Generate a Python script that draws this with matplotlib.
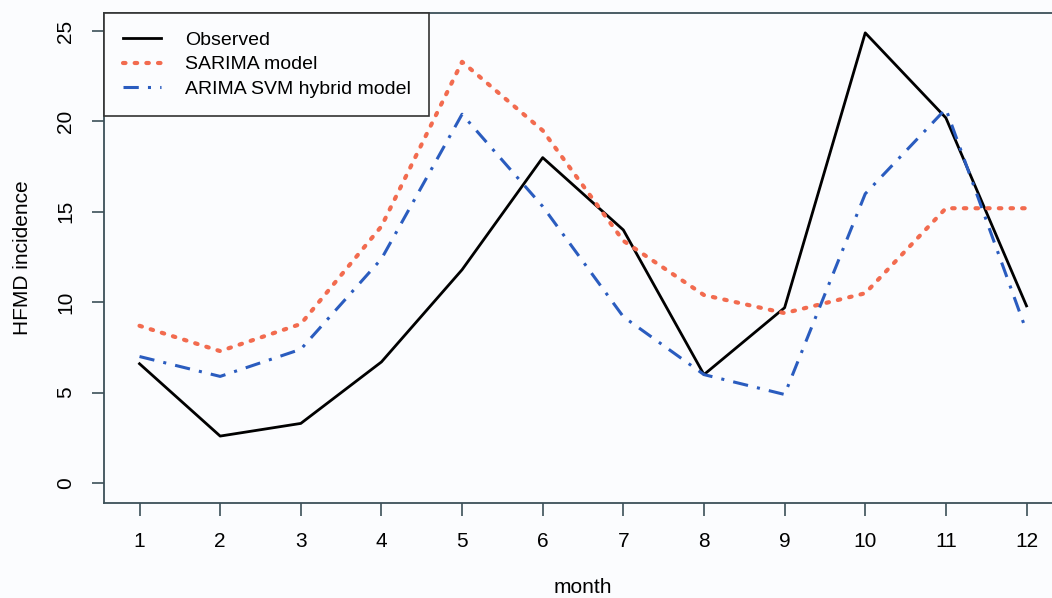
import matplotlib.pyplot as plt

months = list(range(1, 13))
observed = [6.6, 2.6, 3.3, 6.7, 11.8, 18.0, 14.0, 6.0, 9.7, 24.9, 20.2, 9.8]
sarima = [8.7, 7.3, 8.8, 14.2, 23.3, 19.5, 13.4, 10.4, 9.4, 10.5, 15.2, 15.2]
hybrid = [7.0, 5.9, 7.4, 12.4, 20.4, 15.3, 9.2, 6.0, 4.9, 16.0, 20.7, 8.4]

plt.rcParams["font.family"] = ["Liberation Sans", "DejaVu Sans"]
bg = "#fbfcfe"
spine_col = "#3c5058"

fig = plt.figure(figsize=(10.52, 5.98), dpi=100, facecolor=bg)
ax = fig.add_axes([0.0989, 0.1589, 0.9106, 0.8194], facecolor=bg)

ax.plot(months, observed, color="black", lw=2, label="Observed")
ax.plot(months, sarima, color="#f26b4f", lw=3, linestyle=(0, (0.6, 2.2)),
        dash_capstyle="round", label="SARIMA model")
ax.plot(months, hybrid, color="#2a5cbf", lw=2.2, linestyle=(0, (5, 3, 1, 3)),
        label="ARIMA SVM hybrid model")

ax.set_xlim(0.56, 12.44)
ax.set_ylim(-1.1, 26.0)
ax.set_xticks(months)
ax.set_yticks([0, 5, 10, 15, 20, 25])
ax.tick_params(axis="both", direction="out", length=9, width=1.2, color=spine_col,
               labelsize=15, pad=12)
for lbl in ax.get_yticklabels():
    lbl.set_rotation(90)
    lbl.set_va("center")
for s in ax.spines.values():
    s.set_color(spine_col)
    s.set_linewidth(1.3)

ax.set_xlabel("month", fontsize=15, labelpad=19)
ax.set_ylabel("HFMD incidence", fontsize=15, labelpad=17)

leg = ax.legend(loc="upper left", bbox_to_anchor=(0, 1), fontsize=14, frameon=True,
                fancybox=False, edgecolor="#333333", facecolor=bg, framealpha=1,
                borderaxespad=0, handlelength=2.0, handletextpad=1.2,
                labelspacing=0.35, borderpad=0.95)
leg.get_frame().set_linewidth(1.2)

fig.savefig("out.png", dpi=100, facecolor=bg)
